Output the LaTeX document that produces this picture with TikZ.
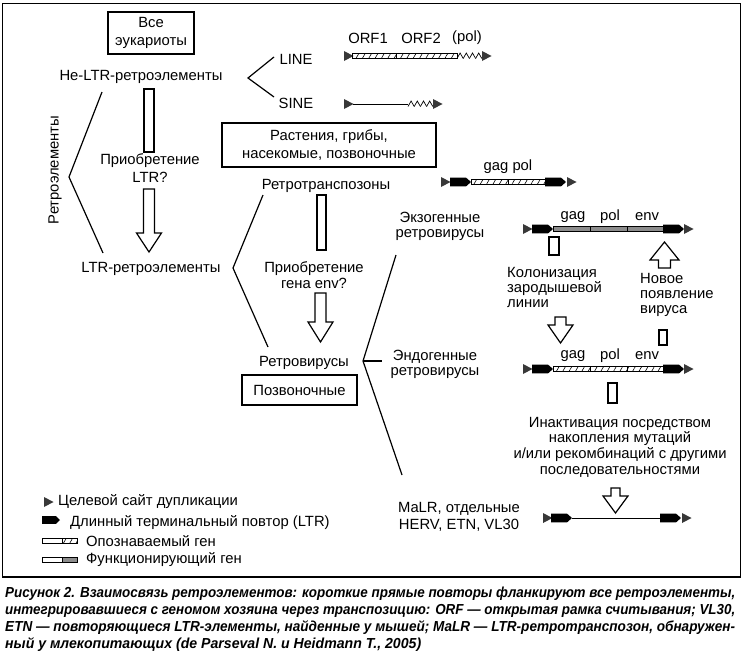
\documentclass[tikz,border=0pt]{standalone}
\usepackage{fontspec}
\setmainfont{Liberation Sans}
\usetikzlibrary{patterns.meta}
\definecolor{tsdgray}{HTML}{383838}
\begin{document}
\begin{tikzpicture}[x=1pt,y=-1pt,
  every node/.style={font=\fontsize{14.8}{17}\selectfont, inner sep=0pt},
  lw/.style={line width=1.2pt},
  boxed/.style={draw, line width=1.3pt, align=center},
  hollow/.style={draw, line width=1.2pt, fill=white},
  thinline/.style={line width=0.7pt},
  genehatch/.style={draw=black, line width=0.6pt, pattern={Lines[angle=60,distance=5.5pt,line width=0.6pt]}},
  genefunc/.style={draw=black, line width=0.6pt, fill=black!45},
  tsdtri/.pic={\fill[tsdgray] (0,-5) -- (9.5,0) -- (0,5) -- cycle;},
  ltrshape/.pic={\fill[black] (0,-4.4) -- (16,-4.4) -- (21,0) -- (16,4.4) -- (0,4.4) -- cycle;},
  ltrsmall/.pic={\fill[black] (0,-3.8) -- (14,-3.8) -- (18,0) -- (14,3.8) -- (0,3.8) -- cycle;}
]
\useasboundingbox (0,0) rectangle (746,653);
% frame
\draw[line width=1.3pt] (2.5,3.5) rectangle (740.5,577);

% ---------- left column ----------
\node[boxed, minimum width=86, minimum height=42, font=\fontsize{14.8}{18}\selectfont] (euk) at (151,33) {Все\\эукариоты};
\node (nonltr) at (141,77) {Не-LTR-ретроэлементы};
\node (line) at (296,59) {LINE};
\node (sine) at (296,103) {SINE};
\coordinate (bv1) at (248,78);
\coordinate (bt1) at (274,57);
\coordinate (bb1) at (274,97);
\draw[lw] (bt1) -- (bv1) -- (bb1);

\node[rotate=90] (retro) at (55,170) {Ретроэлементы};
\coordinate (bt2) at (102,92);
\coordinate (bv2) at (69,177);
\coordinate (bb2) at (103,253);
\draw[lw] (bt2) -- (bv2) -- (bb2);

\draw[hollow] (144,89) rectangle (154,152);
\node[align=center, font=\fontsize{14.8}{18}\selectfont] (acq1) at (150,168) {Приобретение\\LTR?};
\draw[hollow] (143.5,189) -- (154.5,189) -- (154.5,233) -- (161.5,233) -- (149,252) -- (136.5,233) -- (143.5,233) -- cycle;
\node (ltrret) at (151,269) {LTR-ретроэлементы};
\coordinate (bt3) at (263,195);
\coordinate (bv3) at (233,268);
\coordinate (bb3) at (268,347);
\draw[lw] (bt3) -- (bv3) -- (bb3);

% ---------- middle column ----------
\node[boxed, minimum width=214, minimum height=44, font=\fontsize{14.8}{18}\selectfont] (plants) at (329,145) {Растения, грибы,\\насекомые, позвоночные};
\node (rtp) at (326,186) {Ретротранспозоны};
\draw[hollow] (317,195) rectangle (326,250);
\node[align=center, font=\fontsize{14.8}{16.5}\selectfont] (acq2) at (314,275) {Приобретение\\гена env?};
\draw[hollow] (315,293) -- (326,293) -- (326,322) -- (333,322) -- (320.5,342) -- (308,322) -- (315,322) -- cycle;
\node (rv) at (304,363) {Ретровирусы};
\node[boxed, minimum width=115, minimum height=30] (vert) at (299.5,390) {Позвоночные};
\coordinate (bt4) at (396,255);
\coordinate (bv4) at (363,361);
\coordinate (bh4) at (382,361);
\coordinate (bb4) at (402,475);
\draw[lw] (bt4) -- (bv4) -- (bb4);
\draw[lw] (bv4) -- (bh4);

\node[align=center, font=\fontsize{14.8}{15}\selectfont] (exo) at (440,226) {Экзогенные\\ретровирусы};
\node[align=center, font=\fontsize{14.8}{15}\selectfont] (endo) at (435,364) {Эндогенные\\ретровирусы};
\node[align=center, font=\fontsize{14.8}{17}\selectfont] (malr) at (459,517) {MaLR, отдельные\\HERV, ETN, VL30};

% ---------- elements ----------
% LINE
\node (orf1) at (368,38) {ORF1};
\node (orf2) at (421,38) {ORF2};
\node (pol0) at (467,38) {(pol)};
\pic at (344,56) {tsdtri};
\draw[genehatch] (352,53.4) rectangle (396,58.6);
\draw[genehatch] (396,53.4) rectangle (457,58.6);
\foreach \i in {0,1,2,3} \draw[thinline] (457+6.2*\i,58.5) -- (460.1+6.2*\i,53) -- (463.2+6.2*\i,58.5);
\pic at (482,56) {tsdtri};
% SINE
\pic at (344,104) {tsdtri};
\draw[thinline] (353,104) -- (408,104);
\foreach \i in {0,1,2,3} \draw[thinline] (408+6.2*\i,106.5) -- (411.1+6.2*\i,101) -- (414.2+6.2*\i,106.5);
\pic at (433,104) {tsdtri};
% retrotransposon
\node (gagpol) at (508,167) {gag pol};
\pic at (441,182) {tsdtri};
\pic at (450,182) {ltrshape};
\draw[genehatch] (471,179.4) rectangle (508,184.6);
\draw[genehatch] (508,179.4) rectangle (545,184.6);
\pic at (545,182) {ltrshape};
\pic at (567,182) {tsdtri};
% exogenous
\node (gag1) at (573,217) {gag};
\node (pol1) at (610,217) {pol};
\node (env1) at (647,217) {env};
\pic at (523,229) {tsdtri};
\pic at (532,229) {ltrshape};
\draw[genefunc] (553,226.4) rectangle (590,231.6);
\draw[genefunc] (590,226.4) rectangle (627,231.6);
\draw[genefunc] (627,226.4) rectangle (663,231.6);
\pic at (663,229) {ltrshape};
\pic at (684,229) {tsdtri};
% endogenous
\node (gag2) at (573,356) {gag};
\node (pol2) at (610,356) {pol};
\node (env2) at (647,356) {env};
\pic at (523,369) {tsdtri};
\pic at (532,369) {ltrshape};
\draw[genehatch] (553,366.4) rectangle (590,371.6);
\draw[genehatch] (590,366.4) rectangle (627,371.6);
\draw[genehatch] (627,366.4) rectangle (663,371.6);
\pic at (663,369) {ltrshape};
\pic at (684,369) {tsdtri};
% MaLR
\pic at (543,518) {tsdtri};
\pic at (551,518) {ltrshape};
\draw[thinline] (572,518) -- (660,518);
\pic at (660,518) {ltrshape};
\pic at (682,518) {tsdtri};

% ---------- right transitions ----------
\draw[hollow] (549,237) rectangle (559,255);
\node[align=left, anchor=west, font=\fontsize{14.8}{15}\selectfont] (kolon) at (507,287) {Колонизация\\зародышевой\\линии};
\draw[hollow] (555,317) -- (566,317) -- (566,325) -- (573,325) -- (560.5,343) -- (548,325) -- (555,325) -- cycle;
\draw[hollow] (658.5,268) -- (670.5,268) -- (670.5,260) -- (679,260) -- (664.5,242) -- (650,260) -- (658.5,260) -- cycle;
\node[align=left, anchor=west, font=\fontsize{14.8}{15}\selectfont] (novoe) at (640,295) {Новое\\появление\\вируса};
\draw[hollow] (659,330) rectangle (667,345);
\draw[hollow] (608,383) rectangle (617,403);
\node[align=center, font=\fontsize{14.8}{15.7}\selectfont] (inact) at (620,447) {Инактивация посредством\\накопления мутаций\\и/или рекомбинаций с другими\\последовательностями};
\draw[hollow] (611,488) -- (620,488) -- (620,496) -- (628,496) -- (615.5,513) -- (603,496) -- (611,496) -- cycle;

% ---------- legend ----------
\pic at (44,502) {tsdtri};
\node[anchor=west] (lg1) at (58,502) {Целевой сайт дупликации};
\pic at (42,520) {ltrsmall};
\node[anchor=west] (lg2) at (70,523) {Длинный терминальный повтор (LTR)};
\draw[line width=0.6pt] (42,538.6) rectangle (62,543.4);
\draw[genehatch] (62,538.6) rectangle (77,543.4);
\node[anchor=west] (lg3) at (86,541) {Опознаваемый ген};
\draw[line width=0.6pt] (42,557.6) rectangle (62,562.4);
\draw[genefunc] (62,557.6) rectangle (77,562.4);
\node[anchor=west] (lg4) at (86,560) {Функционирующий ген};

% ---------- caption ----------
\begin{scope}[every node/.style={anchor=west, inner sep=0pt, font=\fontsize{14.5}{15}\bfseries\itshape}]
\node (cap1) at (5,594) {\resizebox{730pt}{\height}{Рисунок 2. Взаимосвязь ретроэлементов: короткие прямые повторы фланкируют все ретроэлементы,}};
\node (cap2) at (5,611) {\resizebox{730pt}{\height}{интегрировавшиеся с геномом хозяина через транспозицию: ORF — открытая рамка считывания; VL30,}};
\node (cap3) at (5,628) {\resizebox{730pt}{\height}{ETN — повторяющиеся LTR-элементы, найденные у мышей; MaLR — LTR-ретротранспозон, обнаружен-}};
\node (cap4) at (5,645) {\resizebox{416pt}{\height}{ный у млекопитающих (de Parseval N. и Heidmann T., 2005)}};
\end{scope}
\end{tikzpicture}
\end{document}
